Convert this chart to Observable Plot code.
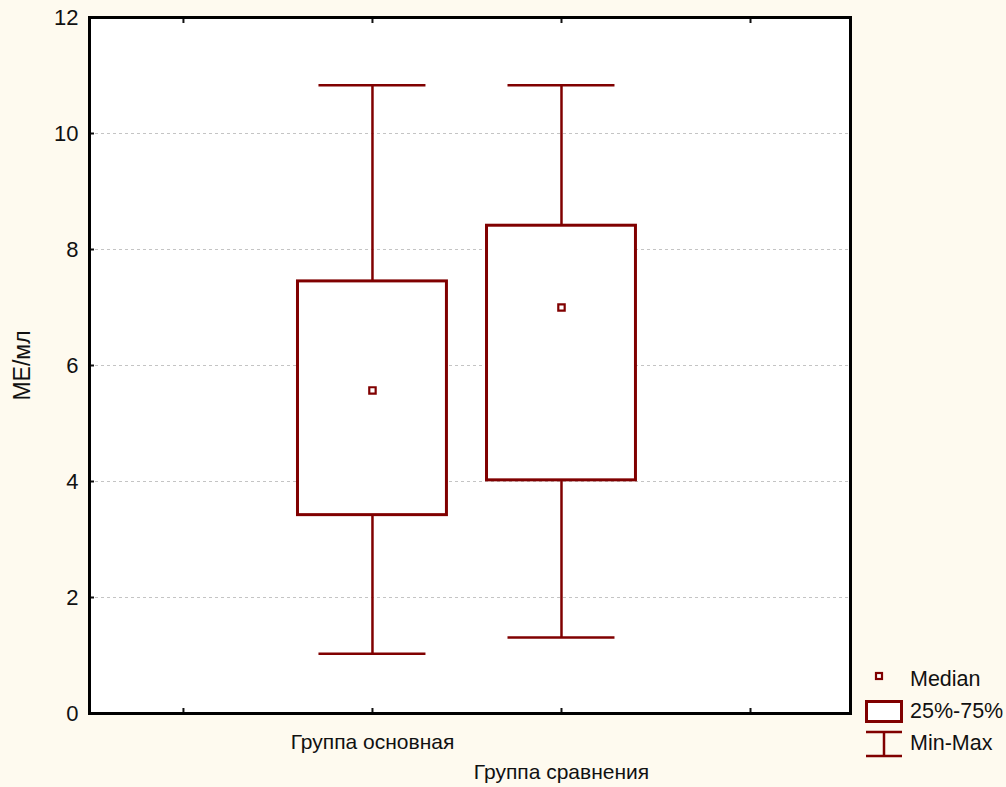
<!DOCTYPE html>
<html><head><meta charset="utf-8">
<script src="https://cdn.jsdelivr.net/npm/d3@7"></script>
<script src="https://cdn.jsdelivr.net/npm/@observablehq/plot@0.6"></script>
<style>
html,body{margin:0;padding:0;background:#FEFAEF;}
#wrap{position:relative;width:1006px;height:787px;overflow:hidden;}
#legend{position:absolute;left:860px;top:663px;font-family:"Liberation Sans",Arial,sans-serif;font-size:21.5px;color:#111;}
#legend .row{display:flex;align-items:center;height:32px;}
#legend svg{width:46px;height:32px;display:block;}
#legend span{margin-left:4px;}
</style></head>
<body><div id="wrap"><div id="chart"></div><div id="legend"></div></div>
<script>
const groups = ["Группа основная", "Группа сравнения"];
const mins = [1.03, 1.31];
const q1s = [3.42, 4.02];
const medians = [5.57, 7.0];
const q3s = [7.45, 8.41];
const maxs = [10.83, 10.83];
const yTicks = [0, 2, 4, 6, 8, 10, 12];
const xTickPositions = [0, 1, 2, 3];
const legendLabels = ["Median", "25%-75%", "Min-Max"];

const data = groups.map((g, i) => ({
  group: g, pos: i + 1, min: mins[i], q1: q1s[i], med: medians[i], q3: q3s[i], max: maxs[i]
}));

const col = "#800000";
const boxHalf = 0.394;
const capHalf = 0.283;
const font = '"Liberation Sans", Arial, sans-serif';

const chart = Plot.plot({
  width: 1006, height: 787,
  marginLeft: 89, marginRight: 156, marginTop: 17, marginBottom: 74,
  style: {background: "transparent", fontFamily: font, fontSize: "20px", color: "#111"},
  x: {type: "linear", domain: [-0.497, 3.529]},
  y: {type: "linear", domain: [0, 12]},
  marks: [
    Plot.frame({fill: "white"}),
    Plot.gridY(yTicks.filter(d => d > 0 && d < 12), {stroke: "#c4c4c4", strokeOpacity: 1, strokeDasharray: "3,3", strokeWidth: 1}),
    Plot.axisY(yTicks, {anchor: "left", tickSize: -5, tickPadding: 16, strokeWidth: 2, fontSize: 22, fill: "#111", tickFormat: d => String(d), label: null}),
    Plot.axisX(xTickPositions, {anchor: "bottom", tickSize: -5, strokeWidth: 2, tickFormat: () => "", label: null}),
    Plot.axisX(xTickPositions, {anchor: "top", tickSize: -5, strokeWidth: 2, tickFormat: () => "", label: null}),
    Plot.text(["МЕ/мл"], {frameAnchor: "left", textAnchor: "middle", dx: -67, rotate: -90, fontSize: 23, fill: "#111"}),
    // vertical whiskers
    Plot.ruleX(data, {x: "pos", y1: "min", y2: "q1", stroke: col, strokeWidth: 2.5}),
    Plot.ruleX(data, {x: "pos", y1: "q3", y2: "max", stroke: col, strokeWidth: 2.5}),
    // caps
    Plot.ruleY(data, {y: "min", x1: d => d.pos - capHalf, x2: d => d.pos + capHalf, stroke: col, strokeWidth: 2.5}),
    Plot.ruleY(data, {y: "max", x1: d => d.pos - capHalf, x2: d => d.pos + capHalf, stroke: col, strokeWidth: 2.5}),
    // boxes
    Plot.rect(data, {x1: d => d.pos - boxHalf, x2: d => d.pos + boxHalf, y1: "q1", y2: "q3", fill: "white", stroke: col, strokeWidth: 3}),
    // medians
    Plot.dot(data, {x: "pos", y: "med", symbol: "square", r: 3.6, fill: "white", stroke: col, strokeWidth: 2.2}),
    // category labels staggered
    Plot.text(data.filter((d, i) => i % 2 === 0), {x: "pos", text: "group", frameAnchor: "bottom", lineAnchor: "middle", dy: 29, fontSize: 21, fill: "#111"}),
    Plot.text(data.filter((d, i) => i % 2 === 1), {x: "pos", text: "group", frameAnchor: "bottom", lineAnchor: "middle", dy: 59, fontSize: 21, fill: "#111"}),
    Plot.frame({stroke: "black", strokeWidth: 3})
  ]
});
document.getElementById("chart").appendChild(chart);

// legend
const leg = d3.select("#legend");
const icons = [
  s => s.append("rect").attr("x", 16).attr("y", 10).attr("width", 6).attr("height", 6).attr("fill", "white").attr("stroke", col).attr("stroke-width", 2.2),
  s => s.append("rect").attr("x", 6.5).attr("y", 6.5).attr("width", 35).attr("height", 20).attr("fill", "white").attr("stroke", col).attr("stroke-width", 3),
  s => { s.append("line").attr("x1", 6).attr("x2", 42).attr("y1", 5).attr("y2", 5).attr("stroke", col).attr("stroke-width", 2.5);
         s.append("line").attr("x1", 24).attr("x2", 24).attr("y1", 5).attr("y2", 29).attr("stroke", col).attr("stroke-width", 2.5);
         s.append("line").attr("x1", 6).attr("x2", 42).attr("y1", 29).attr("y2", 29).attr("stroke", col).attr("stroke-width", 2.5); }
];
legendLabels.forEach((l, i) => {
  const row = leg.append("div").attr("class", "row");
  const s = row.append("svg");
  icons[i](s);
  row.append("span").text(l);
});
</script>
</body></html>
